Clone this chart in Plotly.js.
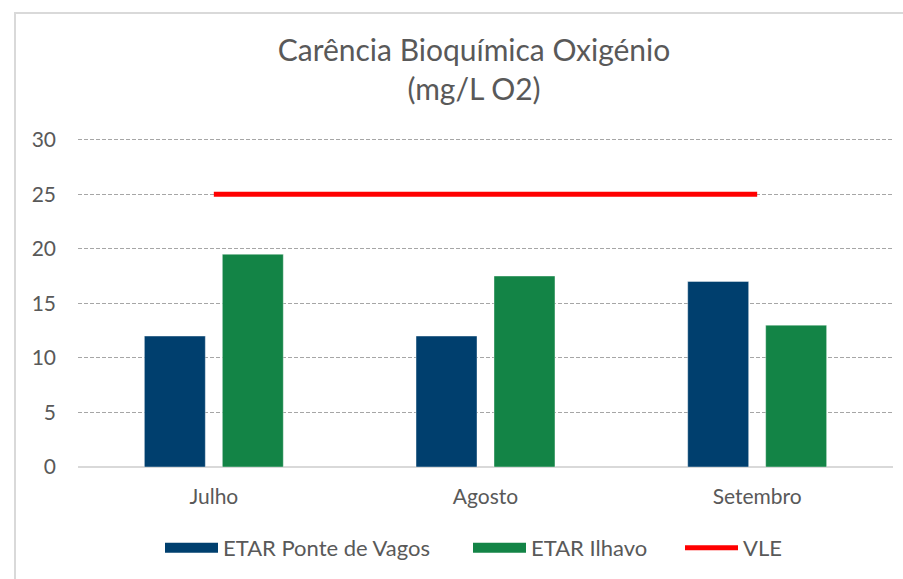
<!DOCTYPE html>
<html>
<head>
<meta charset="utf-8">
<script src="https://cdn.plot.ly/plotly-3.0.1.min.js"></script>
<style>
  html, body { margin: 0; padding: 0; background: #ffffff; overflow: hidden; }
  #wrap { position: relative; width: 903px; height: 579px; }
  #chart { width: 903px; height: 579px; }
  #frame { position: absolute; left: 14px; top: 12px; width: 1000px; height: 1000px;
           border-left: 2px solid #d9d9d9; border-top: 2px solid #d9d9d9; pointer-events: none; }
</style>
</head>
<body>
<div id="wrap">
  <div id="chart"></div>
  <div id="frame"></div>
</div>
<script>
const months = ["Julho", "Agosto", "Setembro"];
const pontedeVagos = [12, 12, 17];
const ilhavo = [19.5, 17.5, 13];
const vle = [25, 25, 25];
const seriesNames = ["ETAR Ponte de Vagos", "ETAR Ilhavo", "VLE"];
const colors = ["#003f6e", "#138446", "#ff0000"];

const font = "Lato, 'Open Sans', sans-serif";
const textColor = "#595959";

const traces = [
  { type: "bar", x: months, y: pontedeVagos, name: seriesNames[0], showlegend: false,
    marker: { color: colors[0], line: { width: 1, color: "rgba(255,255,255,0.4)" } }, hoverinfo: "y" },
  { type: "bar", x: months, y: ilhavo, name: seriesNames[1], showlegend: false,
    marker: { color: colors[1], line: { width: 1, color: "rgba(255,255,255,0.4)" } }, hoverinfo: "y" },
  { type: "scatter", mode: "lines", x: [null], y: [null], name: seriesNames[0], legend: "legend",
    line: { color: colors[0], width: 11 } },
  { type: "scatter", mode: "lines", x: [null], y: [null], name: seriesNames[1], legend: "legend2",
    line: { color: colors[1], width: 11 } },
  { type: "scatter", mode: "lines", x: months, y: vle, name: seriesNames[2], legend: "legend3",
    line: { color: colors[2], width: 5 } }
];

function legendAt(px) {
  return {
    xref: "container", yref: "container",
    x: px / 903, xanchor: "left",
    y: 1 - 548 / 579, yanchor: "middle",
    font: { family: font, size: 22, color: textColor },
    itemwidth: 53,
    bgcolor: "rgba(0,0,0,0)", borderwidth: 0
  };
}

const layout = {
  width: 903, height: 579,
  margin: { l: 78, r: 10, t: 138, b: 112, autoexpand: false },
  paper_bgcolor: "#ffffff", plot_bgcolor: "#ffffff",
  font: { family: font, color: textColor, size: 21 },
  title: {
    text: "Carência Bioquímica Oxigénio<br>(mg/L O2)",
    font: { family: font, size: 30, color: textColor },
    x: 474 / 903, xref: "container", xanchor: "center",
    y: 1 - 61 / 579, yref: "container", yanchor: "middle"
  },
  barmode: "group",
  bargap: 0.426,
  bargroupgap: 0.218,
  xaxis: {
    type: "category", automargin: false,
    showgrid: false, zeroline: false, showline: false,
    ticks: "", ticklabelstandoff: 15,
    tickfont: { family: font, size: 21, color: textColor }
  },
  yaxis: {
    range: [0, 30.15], dtick: 5, tick0: 0, automargin: false,
    showgrid: true, gridcolor: "#a6a6a6", gridwidth: 1, griddash: "4px,2px",
    zeroline: true, zerolinecolor: "#d9d9d9", zerolinewidth: 2,
    showline: false, ticks: "", ticklabelstandoff: 21,
    tickfont: { family: font, size: 21, color: textColor }
  },
  legend: legendAt(160),
  legend2: legendAt(468),
  legend3: legendAt(680),
  showlegend: true
};

Plotly.newPlot("chart", traces, layout, { displayModeBar: false, staticPlot: true });
</script>
</body>
</html>
